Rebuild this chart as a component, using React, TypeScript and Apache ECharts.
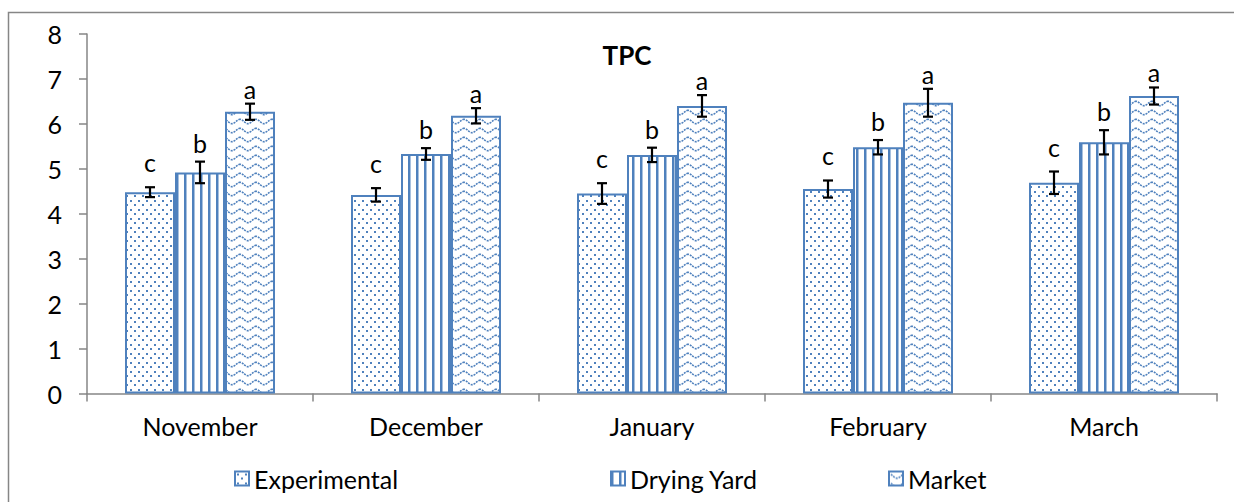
import React, { useEffect, useRef } from 'react';
import * as echarts from 'echarts';

// ---- Data ----
const months = ['November', 'December', 'January', 'February', 'March'];
const seriesNames = ['Experimental', 'Drying Yard', 'Market'];
const experimental = [4.48, 4.42, 4.45, 4.55, 4.69];
const dryingYard = [4.92, 5.33, 5.31, 5.48, 5.59];
const market = [6.27, 6.18, 6.4, 6.47, 6.62];
const experimentalErr = [0.11, 0.15, 0.23, 0.19, 0.25];
const dryingYardErr = [0.24, 0.13, 0.16, 0.16, 0.27];
const marketErr = [0.18, 0.17, 0.24, 0.31, 0.19];
const letters = ['c', 'b', 'a'];
const yMin = 0;
const yMax = 8;
const yInterval = 1;

// ---- Styles ----
const BLUE = '#4f81bd';
const AXIS = '#868686';
const FONT = 'Lato';
const FS = 25;
const BAR_W = 50;
const LETTER_OFFSETS = [25, 19, 15];

function makeCanvas(w: number, h: number, draw: (ctx: CanvasRenderingContext2D) => void) {
  const c = document.createElement('canvas');
  c.width = w;
  c.height = h;
  const ctx = c.getContext('2d')!;
  ctx.fillStyle = '#ffffff';
  ctx.fillRect(0, 0, w, h);
  draw(ctx);
  return c;
}

function dotsPattern() {
  return makeCanvas(8, 9, (ctx) => {
    ctx.fillStyle = BLUE;
    ctx.fillRect(2, 2, 2, 2);
    ctx.fillRect(6, 6, 2, 2);
  });
}

function linesPattern() {
  return makeCanvas(8, 4, (ctx) => {
    ctx.fillStyle = BLUE;
    ctx.fillRect(0, 0, 2, 4);
    ctx.globalAlpha = 0.5;
    ctx.fillRect(2, 0, 1, 4);
  });
}

function wavePattern() {
  return makeCanvas(16, 9, (ctx) => {
    ctx.strokeStyle = BLUE;
    ctx.lineWidth = 1.6;
    ctx.setLineDash([2, 1]);
    ctx.beginPath();
    for (let x = -1; x <= 17; x += 0.5) {
      const y = 4.5 - 2.2 * Math.cos((2 * Math.PI * x) / 16);
      if (x === -1) ctx.moveTo(x, y);
      else ctx.lineTo(x, y);
    }
    ctx.stroke();
  });
}

export default function App() {
  const ref = useRef<HTMLDivElement>(null);

  useEffect(() => {
    document.body.style.margin = '0';
    document.body.style.overflow = 'hidden';
    if (!ref.current) return;
    const chart = echarts.init(ref.current, undefined, { renderer: 'svg' });

    const values = [experimental, dryingYard, market];
    const errors = [experimentalErr, dryingYardErr, marketErr];
    const patterns = [dotsPattern(), linesPattern(), wavePattern()];

    const errData: number[][] = [];
    months.forEach((_, i) => {
      values.forEach((v, s) => {
        errData.push([i, s, v[i], errors[s][i]]);
      });
    });

    const barSeries = seriesNames.map((name, s) => ({
      name,
      type: 'bar',
      data: values[s],
      barWidth: BAR_W,
      barGap: '0%',
      itemStyle: {
        color: { image: patterns[s], repeat: 'repeat' },
        borderColor: BLUE,
        borderWidth: 2,
      },
      emphasis: { disabled: true },
    }));

    const legendLefts = [234, 610, 888];

    chart.setOption({
      animation: false,
      grid: { left: 87, right: 17, top: 34, bottom: 108.5 },
      graphic: [
        {
          type: 'polyline',
          shape: { points: [[1234, 12.5], [8.5, 12.5], [8.5, 502]] },
          style: { fill: 'none', stroke: AXIS, lineWidth: 1.5 },
          silent: true,
        },
        {
          type: 'text',
          x: 627,
          y: 55,
          style: {
            text: 'TPC',
            align: 'center',
            verticalAlign: 'middle',
            fontFamily: FONT,
            fontSize: 26,
            fontWeight: 'bold',
            fill: '#000',
          },
        },
      ],
      legend: seriesNames.map((name, s) => ({
        data: [name],
        left: legendLefts[s],
        top: 466,
        padding: 0,
        itemWidth: 14,
        itemHeight: 14,
        icon: 'rect',
        selectedMode: false,
        textStyle: { fontFamily: FONT, fontSize: FS, color: '#000' },
      })),
      xAxis: {
        type: 'category',
        data: months,
        axisLine: { lineStyle: { color: AXIS, width: 1.5 } },
        axisTick: { show: true, length: 8, interval: 0, lineStyle: { color: AXIS, width: 1.5 } },
        axisLabel: { fontFamily: FONT, fontSize: FS, color: '#000', margin: 20, interval: 0 },
        splitLine: { show: false },
      },
      yAxis: {
        type: 'value',
        min: yMin,
        max: yMax,
        interval: yInterval,
        axisLine: { show: true, lineStyle: { color: AXIS, width: 1.5 } },
        axisTick: { show: true, length: 8, lineStyle: { color: AXIS, width: 1.5 } },
        axisLabel: { fontFamily: FONT, fontSize: FS, color: '#000', margin: 25 },
        splitLine: { show: false },
      },
      series: [
        ...barSeries,
        {
          type: 'custom',
          data: errData,
          z: 10,
          silent: true,
          encode: { x: 0, y: 2 },
          renderItem: (params: any, api: any) => {
            const cat = api.value(0);
            const s = api.value(1);
            const mean = api.value(2);
            const err = api.value(3);
            const center = api.coord([cat, mean]);
            const x = center[0] + (s - 1) * BAR_W;
            const yTop = api.coord([cat, mean + err])[1];
            const yBot = api.coord([cat, mean - err])[1];
            const st = { stroke: '#000', lineWidth: 2.2 };
            return {
              type: 'group',
              children: [
                { type: 'line', shape: { x1: x, y1: yTop, x2: x, y2: yBot }, style: st },
                { type: 'line', shape: { x1: x - 5, y1: yTop, x2: x + 5, y2: yTop }, style: st },
                { type: 'line', shape: { x1: x - 5, y1: yBot, x2: x + 5, y2: yBot }, style: st },
                {
                  type: 'text',
                  x,
                  y: yTop - LETTER_OFFSETS[s],
                  style: {
                    text: letters[s],
                    align: 'center',
                    verticalAlign: 'middle',
                    fontFamily: FONT,
                    fontSize: FS,
                    fill: '#000',
                  },
                },
              ],
            };
          },
        },
      ],
    });

    return () => chart.dispose();
  }, []);

  return <div ref={ref} style={{ width: 1234, height: 502 }} />;
}
